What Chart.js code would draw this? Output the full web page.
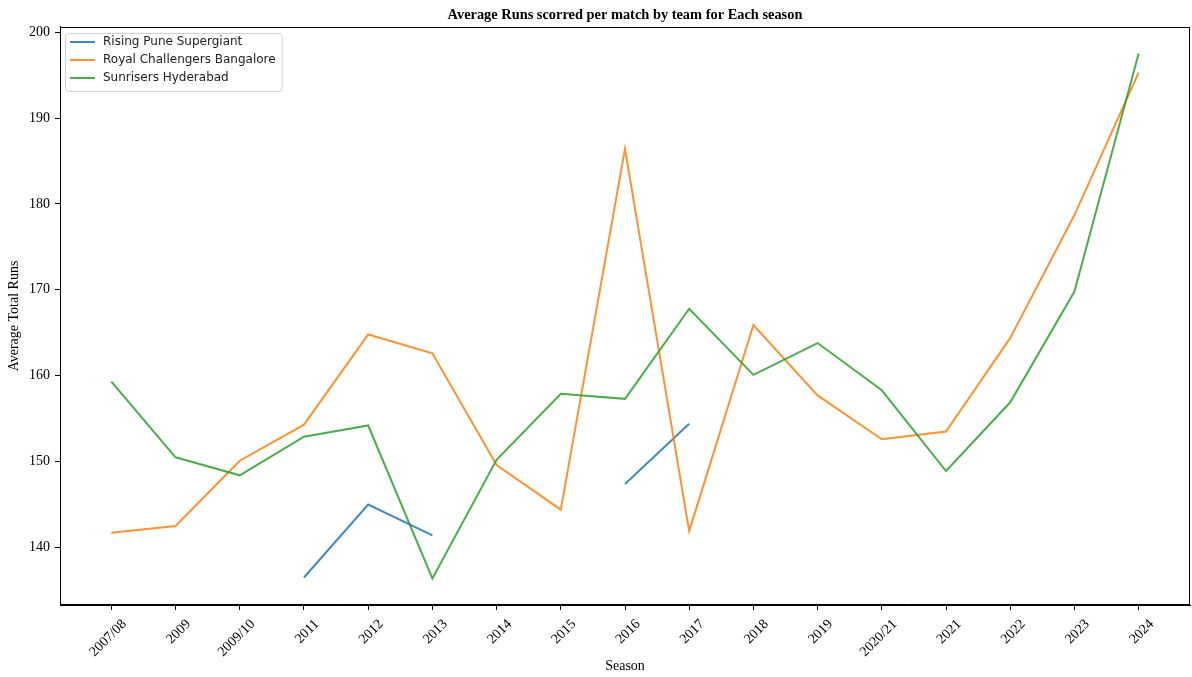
<!DOCTYPE html>
<html>
<head>
<meta charset="utf-8">
<script src="https://cdn.jsdelivr.net/npm/chart.js@4"></script>
<style>
  body { margin: 0; background: #fff; }
  #wrap { width: 1192px; height: 677px; }
</style>
</head>
<body>
<div id="wrap"><canvas id="runsChart" width="1192" height="677"></canvas></div>
<script>
// Seasons and average runs per match
const seasons = ["2007/08", "2009", "2009/10", "2011", "2012", "2013", "2014", "2015", "2016",
  "2017", "2018", "2019", "2020/21", "2021", "2022", "2023", "2024"];
const teamNames = ["Rising Pune Supergiant", "Royal Challengers Bangalore", "Sunrisers Hyderabad"];
const puneRuns = [null, null, null, 136.5, 145.0, 141.4, null, null, 147.4, 154.4,
  null, null, null, null, null, null, null];
const rcbRuns = [141.7, 142.5, 150.1, 154.3, 164.8, 162.6, 149.6, 144.4, 186.4, 141.9,
  165.9, 157.7, 152.6, 153.5, 164.4, 178.7, 195.3];
const srhRuns = [159.3, 150.5, 148.4, 152.9, 154.2, 136.4, 150.2, 157.9, 157.3, 167.8,
  160.1, 163.8, 158.3, 148.9, 156.9, 169.8, 197.5];
const yTicks = [140, 150, 160, 170, 180, 190, 200];

// tab10 colours, drawn a little transparent like the reference
const colors = ["rgba(31,119,180,0.85)", "rgba(255,127,14,0.85)", "rgba(44,160,44,0.85)"];
const serif = "'Liberation Serif', 'DejaVu Serif', serif";

function toPoints(values) {
  return values.map((v, i) => ({ x: i, y: v }));
}

// frame around the plot area (all four spines)
const framePlugin = {
  id: "frame",
  afterDatasetsDraw(chart) {
    const { ctx, chartArea: a } = chart;
    ctx.save();
    ctx.strokeStyle = "#000";
    ctx.lineWidth = 1;
    ctx.strokeRect(a.left + 0.5, a.top + 0.5, a.right - a.left - 1, a.bottom - a.top - 1);
    ctx.restore();
  }
};

// legend box in the upper left of the plot, like matplotlib's
const legendPlugin = {
  id: "boxLegend",
  afterDraw(chart) {
    const { ctx, chartArea: a } = chart;
    const x = a.left + 5, y = a.top + 6;
    const rowH = 18;
    ctx.save();
    ctx.font = "12px 'DejaVu Sans', sans-serif";
    let textW = 0;
    chart.data.datasets.forEach((ds) => { textW = Math.max(textW, ctx.measureText(ds.label).width); });
    const w = 38 + textW + 6, h = rowH * 3 + 4;
    ctx.fillStyle = "rgba(255,255,255,0.8)";
    ctx.strokeStyle = "#d0d0d0";
    ctx.lineWidth = 1;
    ctx.beginPath();
    ctx.roundRect(x + 0.5, y + 0.5, w, h, 3);
    ctx.fill();
    ctx.stroke();
    chart.data.datasets.forEach((ds, i) => {
      const cy = y + 9 + i * rowH;
      ctx.strokeStyle = ds.borderColor;
      ctx.lineWidth = 2;
      ctx.beginPath();
      ctx.moveTo(x + 5, cy);
      ctx.lineTo(x + 30, cy);
      ctx.stroke();
      ctx.fillStyle = "#222";
      ctx.textBaseline = "middle";
      ctx.fillText(ds.label, x + 38, cy);
    });
    ctx.restore();
  }
};

new Chart(document.getElementById("runsChart"), {
  type: "line",
  data: {
    datasets: [
      { label: teamNames[0], data: toPoints(puneRuns), borderColor: colors[0], order: 3 },
      { label: teamNames[1], data: toPoints(rcbRuns), borderColor: colors[1], order: 2 },
      { label: teamNames[2], data: toPoints(srhRuns), borderColor: colors[2], order: 1 }
    ]
  },
  options: {
    responsive: false,
    animation: false,
    devicePixelRatio: 1,
    layout: { padding: { left: 0, right: 2, top: 0, bottom: 0 } },
    elements: {
      line: { borderWidth: 2, tension: 0, fill: false },
      point: { radius: 0 }
    },
    spanGaps: false,
    plugins: {
      legend: { display: false },
      tooltip: { enabled: false },
      title: {
        display: true,
        fullSize: false, // centre over the plot area, not the canvas
        text: "Average Runs scorred per match by team for Each season",
        color: "#000",
        font: { family: serif, size: 14.4, weight: "bold" },
        padding: { top: 6.4, bottom: 3.3 }
      }
    },
    scales: {
      x: {
        type: "linear",
        min: -0.8,
        max: 16.8,
        afterBuildTicks(scale) {
          scale.ticks = seasons.map((_, i) => ({ value: i }));
        },
        afterFit(scale) { scale.height = 72; },
        grid: { drawOnChartArea: false, color: "#000", tickLength: 5 },
        border: { display: true, color: "#000" },
        ticks: {
          autoSkip: false,
          minRotation: 45,
          maxRotation: 45,
          padding: 6,
          labelOffset: 13,
          color: "#000",
          font: { family: serif, size: 14 },
          callback: (v) => seasons[v]
        },
        title: {
          display: true,
          text: "Season",
          color: "#000",
          font: { family: serif, size: 14 },
          padding: { top: 0, bottom: 2 }
        }
      },
      y: {
        min: 133.3,
        max: 200.6,
        afterBuildTicks(scale) {
          scale.ticks = yTicks.map((v) => ({ value: v }));
        },
        afterFit(scale) { scale.width = 60; },
        grid: { drawOnChartArea: false, color: "#000", tickLength: 5 },
        border: { display: true, color: "#000" },
        ticks: {
          padding: 5,
          color: "#000",
          font: { family: serif, size: 14 }
        },
        title: {
          display: true,
          text: "Average Total Runs",
          color: "#000",
          font: { family: serif, size: 14 },
          padding: { top: 6, bottom: 0 }
        }
      }
    }
  },
  plugins: [framePlugin, legendPlugin]
});
</script>
</body>
</html>
